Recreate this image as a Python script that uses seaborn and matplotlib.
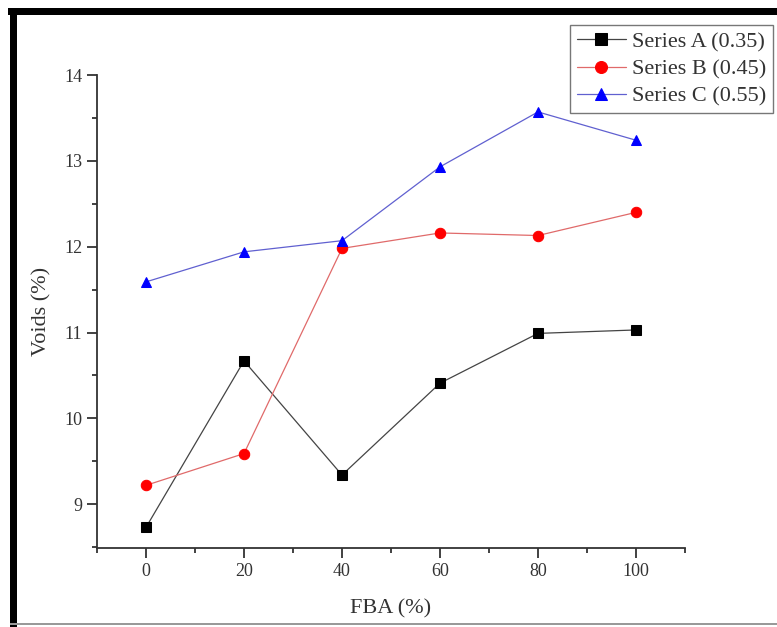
import matplotlib
matplotlib.use("Agg")
import matplotlib.pyplot as plt
from matplotlib.patches import Rectangle
from matplotlib.ticker import MultipleLocator
import seaborn as sns
import pandas as pd

# FBA replacement level (%) and measured voids (%) for each mix
fba = [0, 20, 40, 60, 80, 100]
series_a = [8.73, 10.67, 9.34, 10.41, 10.99, 11.03]
series_b = [9.22, 9.59, 11.98, 12.16, 12.13, 12.40]
series_c = [11.59, 11.94, 12.07, 12.93, 13.57, 13.24]
labels = ["Series A (0.35)", "Series B (0.45)", "Series C (0.55)"]

sns.set_theme(style="ticks")
plt.rcParams["font.family"] = ["Liberation Serif", "DejaVu Serif"]

fig = plt.figure(figsize=(7.77, 6.27), dpi=100)
ax = fig.add_axes([97 / 777, 1 - 548 / 627, (685 - 97) / 777, (548 - 75) / 627])

styles = [
    (series_a, "s", "black", "#444444"),
    (series_b, "o", "#ff0000", "#e06a6a"),
    (series_c, "^", "#0000ff", "#6060d0"),
]
for (vals, mk, mcol, lcol), lab in zip(styles, labels):
    df = pd.DataFrame({"FBA": fba, "Voids": vals})
    sns.lineplot(data=df, x="FBA", y="Voids", ax=ax, color=lcol, linewidth=0.9,
                 marker=mk, markersize=7.5, markerfacecolor=mcol,
                 markeredgecolor=mcol, label=lab)

ax.set_xlim(-10, 110)
ax.set_ylim(8.49, 14)
ax.xaxis.set_major_locator(MultipleLocator(20))
ax.xaxis.set_minor_locator(MultipleLocator(10))
ax.yaxis.set_major_locator(MultipleLocator(1))
ax.yaxis.set_minor_locator(MultipleLocator(0.5))
ax.set_yticks([9, 10, 11, 12, 13, 14])

for side in ["top", "right"]:
    ax.spines[side].set_visible(False)
for side in ["left", "bottom"]:
    ax.spines[side].set_color("#333333")
    ax.spines[side].set_linewidth(1.3)

ax.tick_params(which="major", direction="out", length=7.5, width=1.3,
               color="#333333", labelsize=13, labelcolor="#333333", pad=3)
ax.tick_params(which="minor", direction="out", length=3.5, width=1.3,
               color="#333333")

ax.set_xlabel("FBA (%)", fontsize=16, color="#333333", labelpad=14)
ax.set_ylabel("Voids (%)", fontsize=16, color="#333333", labelpad=9)

leg = ax.legend(loc="upper right", bbox_to_anchor=(773 / 777, 1 - 25 / 627),
                bbox_transform=fig.transFigure, fontsize=16, frameon=True,
                fancybox=False, edgecolor="#555555", handlelength=2.2,
                handletextpad=0.28, borderpad=0.3, labelspacing=0.3,
                borderaxespad=0, markerscale=1.15)
leg.get_frame().set_linewidth(1.0)
for t in leg.get_texts():
    t.set_color("#333333")

# page frame: heavy rules on top and left, thin rule at the bottom
fig.add_artist(Rectangle((8 / 777, 1 - 15 / 627), 1, 7 / 627,
                         transform=fig.transFigure, color="black", lw=0))
fig.add_artist(Rectangle((10 / 777, 0), 7 / 777, 1 - 8 / 627,
                         transform=fig.transFigure, color="black", lw=0))
fig.add_artist(Rectangle((10 / 777, 2 / 627), 1, 2 / 627,
                         transform=fig.transFigure, color="#999999", lw=0))

fig.savefig("out.png", dpi=100, facecolor="white")
